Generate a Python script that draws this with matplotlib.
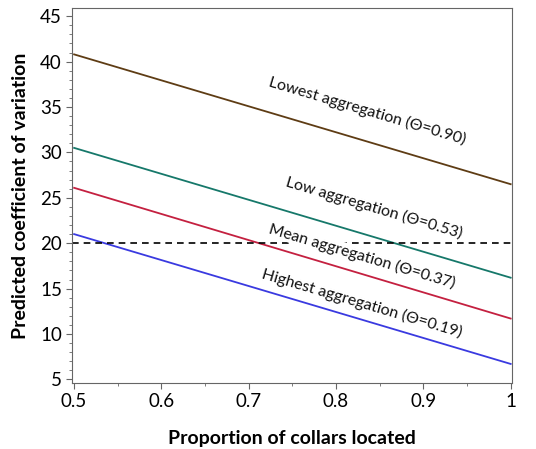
import matplotlib
matplotlib.use("Agg")
import matplotlib.pyplot as plt
from matplotlib.ticker import MultipleLocator

plt.rcParams["font.family"] = ["Lato", "DejaVu Sans"]

# proportion of collars located (line endpoints)
x = [0.5, 1.0]
lowest = [40.8, 26.5]
low = [30.5, 16.2]
mean = [26.1, 11.7]
highest = [21.0, 6.7]
threshold = 20

labels = ["Lowest aggregation (Θ=0.90)", "Low aggregation (Θ=0.53)",
          "Mean aggregation (Θ=0.37)", "Highest aggregation (Θ=0.19)"]
label_pos = [(0.836, 34.6), (0.843, 23.9), (0.830, 18.6), (0.830, 13.4)]
colors = ["#5e3c14", "#16786a", "#c42040", "#3a3ae0"]

fig = plt.figure(figsize=(5.36, 4.49), dpi=100)
ax = fig.add_axes([0.135, 0.147, 0.821, 0.835])

for ys, c in zip([lowest, low, mean, highest], colors):
    ax.plot(x, ys, color=c, lw=1.3)
ax.axhline(threshold, color="black", ls=(0, (4, 3)), lw=1.2)

for txt, (tx, ty) in zip(labels, label_pos):
    ax.text(tx, ty, txt, rotation=-16.5, ha="center", va="center",
            rotation_mode="anchor", fontsize=11.5, color="#111", zorder=5,
            bbox=dict(facecolor="white", edgecolor="none", pad=0.5))

ax.set_xlim(0.498, 1.002)
ax.set_ylim(4.6, 45.9)
ax.xaxis.set_major_locator(MultipleLocator(0.1))
ax.xaxis.set_minor_locator(MultipleLocator(0.05))
ax.yaxis.set_major_locator(MultipleLocator(5))
ax.yaxis.set_minor_locator(MultipleLocator(1))
ax.set_xticks([0.5, 0.6, 0.7, 0.8, 0.9, 1.0], ["0.5", "0.6", "0.7", "0.8", "0.9", "1"])
ax.tick_params(labelsize=13.5, direction="out", color="#666", length=4)
ax.tick_params(which="minor", direction="out", color="#666", length=2)
for s in ax.spines.values():
    s.set_color("#666")

ax.set_xlabel("Proportion of collars located", fontsize=14, fontweight="bold", labelpad=14)
ax.set_ylabel("Predicted coefficient of variation", fontsize=14, fontweight="bold", labelpad=8)

fig.savefig("out.png", dpi=100)
